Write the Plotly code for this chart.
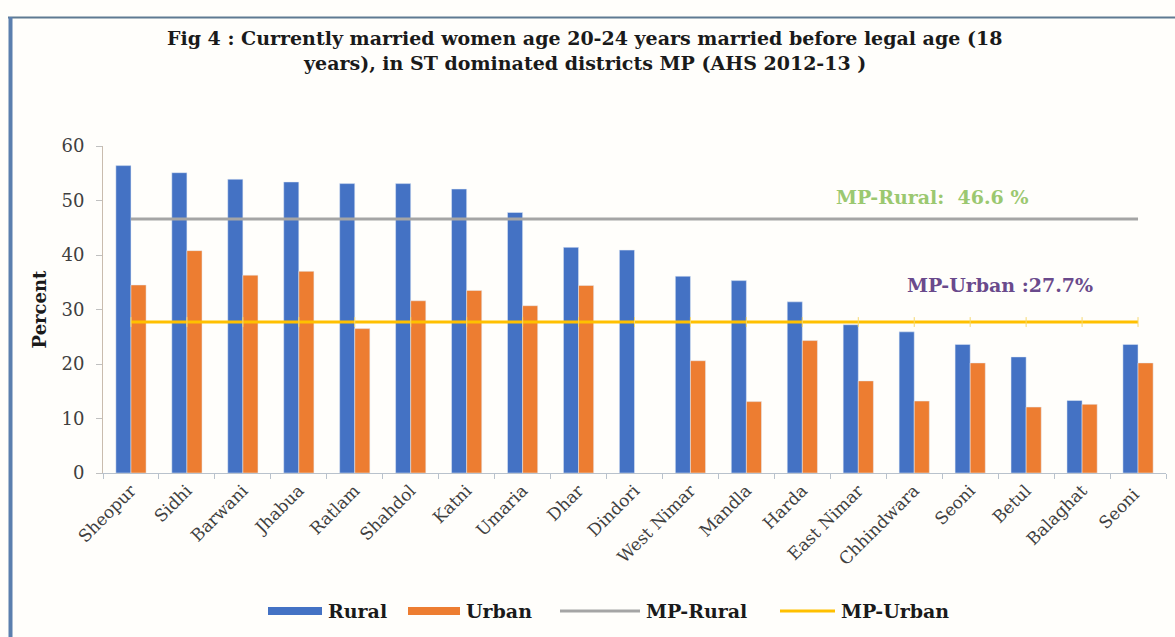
import plotly.graph_objects as go

# District-wise share (%) of currently married women aged 20-24 married before 18
districts = ["Sheopur", "Sidhi", "Barwani", "Jhabua", "Ratlam", "Shahdol", "Katni",
             "Umaria", "Dhar", "Dindori", "West Nimar", "Mandla", "Harda", "East Nimar",
             "Chhindwara", "Seoni", "Betul", "Balaghat", "Seoni "]
rural = [56.4, 55.1, 53.9, 53.4, 53.1, 53.1, 52.1, 47.8, 41.4, 40.9, 36.1, 35.3,
         31.4, 27.2, 25.9, 23.6, 21.3, 13.3, 23.6]
urban = [34.5, 40.8, 36.3, 37.0, 26.5, 31.6, 33.5, 30.7, 34.4, None, 20.6, 13.1,
         24.3, 16.9, 13.2, 20.2, 12.1, 12.6, 20.2]
mp_rural = 46.6
mp_urban = 27.7

title_lines = ["Fig 4 : Currently married women age 20-24 years married before legal age (18",
               "years), in ST dominated districts MP (AHS 2012-13 )"]

SERIF = "DejaVu Serif, Liberation Serif, serif"
BLUE, ORANGE, GREY, GOLD = "#4472c4", "#ed7d31", "#a5a5a5", "#ffc000"

# Plot-area geometry in pixels (figure 1175 x 637)
W, H = 1175, 637
L, R, T, B = 103, 9, 146, 164
pw, ph = W - L - R, H - T - B


def px(x):
    return (x - L) / pw


def py(y):
    return (H - B - y) / ph


fig = go.Figure()
fig.add_trace(go.Bar(name="Rural", x=districts, y=rural, marker_color=BLUE))
fig.add_trace(go.Bar(name="Urban", x=districts, y=urban, marker_color=ORANGE))
fig.add_trace(go.Scatter(name="MP-Rural", x=districts, y=[mp_rural] * len(districts),
                         mode="lines", line=dict(color=GREY, width=3)))
fig.add_trace(go.Scatter(name="MP-Urban", x=districts, y=[mp_urban] * len(districts),
                         mode="lines+markers", line=dict(color=GOLD, width=3),
                         marker=dict(symbol="line-ns", size=7,
                                     line=dict(color="#f5d76e", width=1))))

fig.update_layout(
    width=W, height=H,
    margin=dict(l=L, r=R, t=T, b=B, autoexpand=False),
    paper_bgcolor="#fffefb", plot_bgcolor="#fffefb",
    barmode="group", bargap=0.46, bargroupgap=0,
    font=dict(family=SERIF, color="#404040"),
    showlegend=False,
    xaxis=dict(
        range=[-0.5, len(districts) - 0.5], automargin=False,
        showline=True, linecolor="#b9c2cc", linewidth=1,
        ticks="outside", tickson="boundaries", ticklen=5, tickcolor="#b9c2cc",
        tickangle=-45, tickfont=dict(family=SERIF, size=17, color="#404040"),
        showgrid=False,
    ),
    yaxis=dict(
        range=[0, 60], dtick=10, showline=True, linecolor="#c9bcae", linewidth=1,
        automargin=False,
        ticks="outside", ticklen=6, tickcolor="#c0c0c0", showgrid=False, zeroline=False,
        ticklabelstandoff=8,
        tickfont=dict(family=SERIF, size=18, color="#404040"),
        title=dict(text="Percent", standoff=10,
                   font=dict(family=SERIF, size=18, color="#1a1a1a", weight="bold")),
    ),
)

# Two-line heading
for text, yc in zip(title_lines, (38, 63)):
    fig.add_annotation(xref="paper", yref="paper", x=px(584), y=py(yc),
                       xanchor="center", yanchor="middle", text=text, showarrow=False,
                       font=dict(family=SERIF, size=19, color="#1a1a1a", weight="bold"))

# Reference value labels
fig.add_annotation(xref="paper", yref="paper", x=px(932), y=py(197),
                   xanchor="center", yanchor="middle",
                   text="MP-Rural:  46.6 %", showarrow=False,
                   font=dict(family=SERIF, size=19, color="#9bc870", weight="bold"))
fig.add_annotation(xref="paper", yref="paper", x=px(1000), y=py(285),
                   xanchor="center", yanchor="middle",
                   text="MP-Urban :27.7%", showarrow=False,
                   font=dict(family=SERIF, size=19, color="#6a4a8c", weight="bold"))

# Legend row: wide swatches and bold labels
LEG_Y = 611
legend_items = [
    ("Rural", "bar", BLUE, 268, 322),
    ("Urban", "bar", ORANGE, 408, 460),
    ("MP-Rural", "line", GREY, 560, 640),
    ("MP-Urban", "line", GOLD, 780, 835),
]
for label, kind, color, x0, x1 in legend_items:
    if kind == "bar":
        fig.add_shape(type="rect", xref="paper", yref="paper",
                      x0=px(x0), x1=px(x1), y0=py(LEG_Y - 4), y1=py(LEG_Y + 4),
                      fillcolor=color, line=dict(width=0))
    else:
        fig.add_shape(type="line", xref="paper", yref="paper",
                      x0=px(x0), x1=px(x1), y0=py(LEG_Y), y1=py(LEG_Y),
                      line=dict(color=color, width=3))
    fig.add_annotation(xref="paper", yref="paper", x=px(x1 + 4), y=py(LEG_Y),
                       xanchor="left", yanchor="middle", text=label, showarrow=False,
                       font=dict(family=SERIF, size=19, color="#1a1a1a", weight="bold"))

# Frame: top rule and left rule of the figure box
fig.add_shape(type="line", xref="paper", yref="paper",
              x0=px(8), x1=px(W), y0=py(17.5), y1=py(17.5),
              line=dict(color="#5f7a92", width=2))
fig.add_shape(type="line", xref="paper", yref="paper",
              x0=px(10.5), x1=px(10.5), y0=py(17), y1=py(H),
              line=dict(color="#5b7fae", width=4))

fig.write_html("out.html")
